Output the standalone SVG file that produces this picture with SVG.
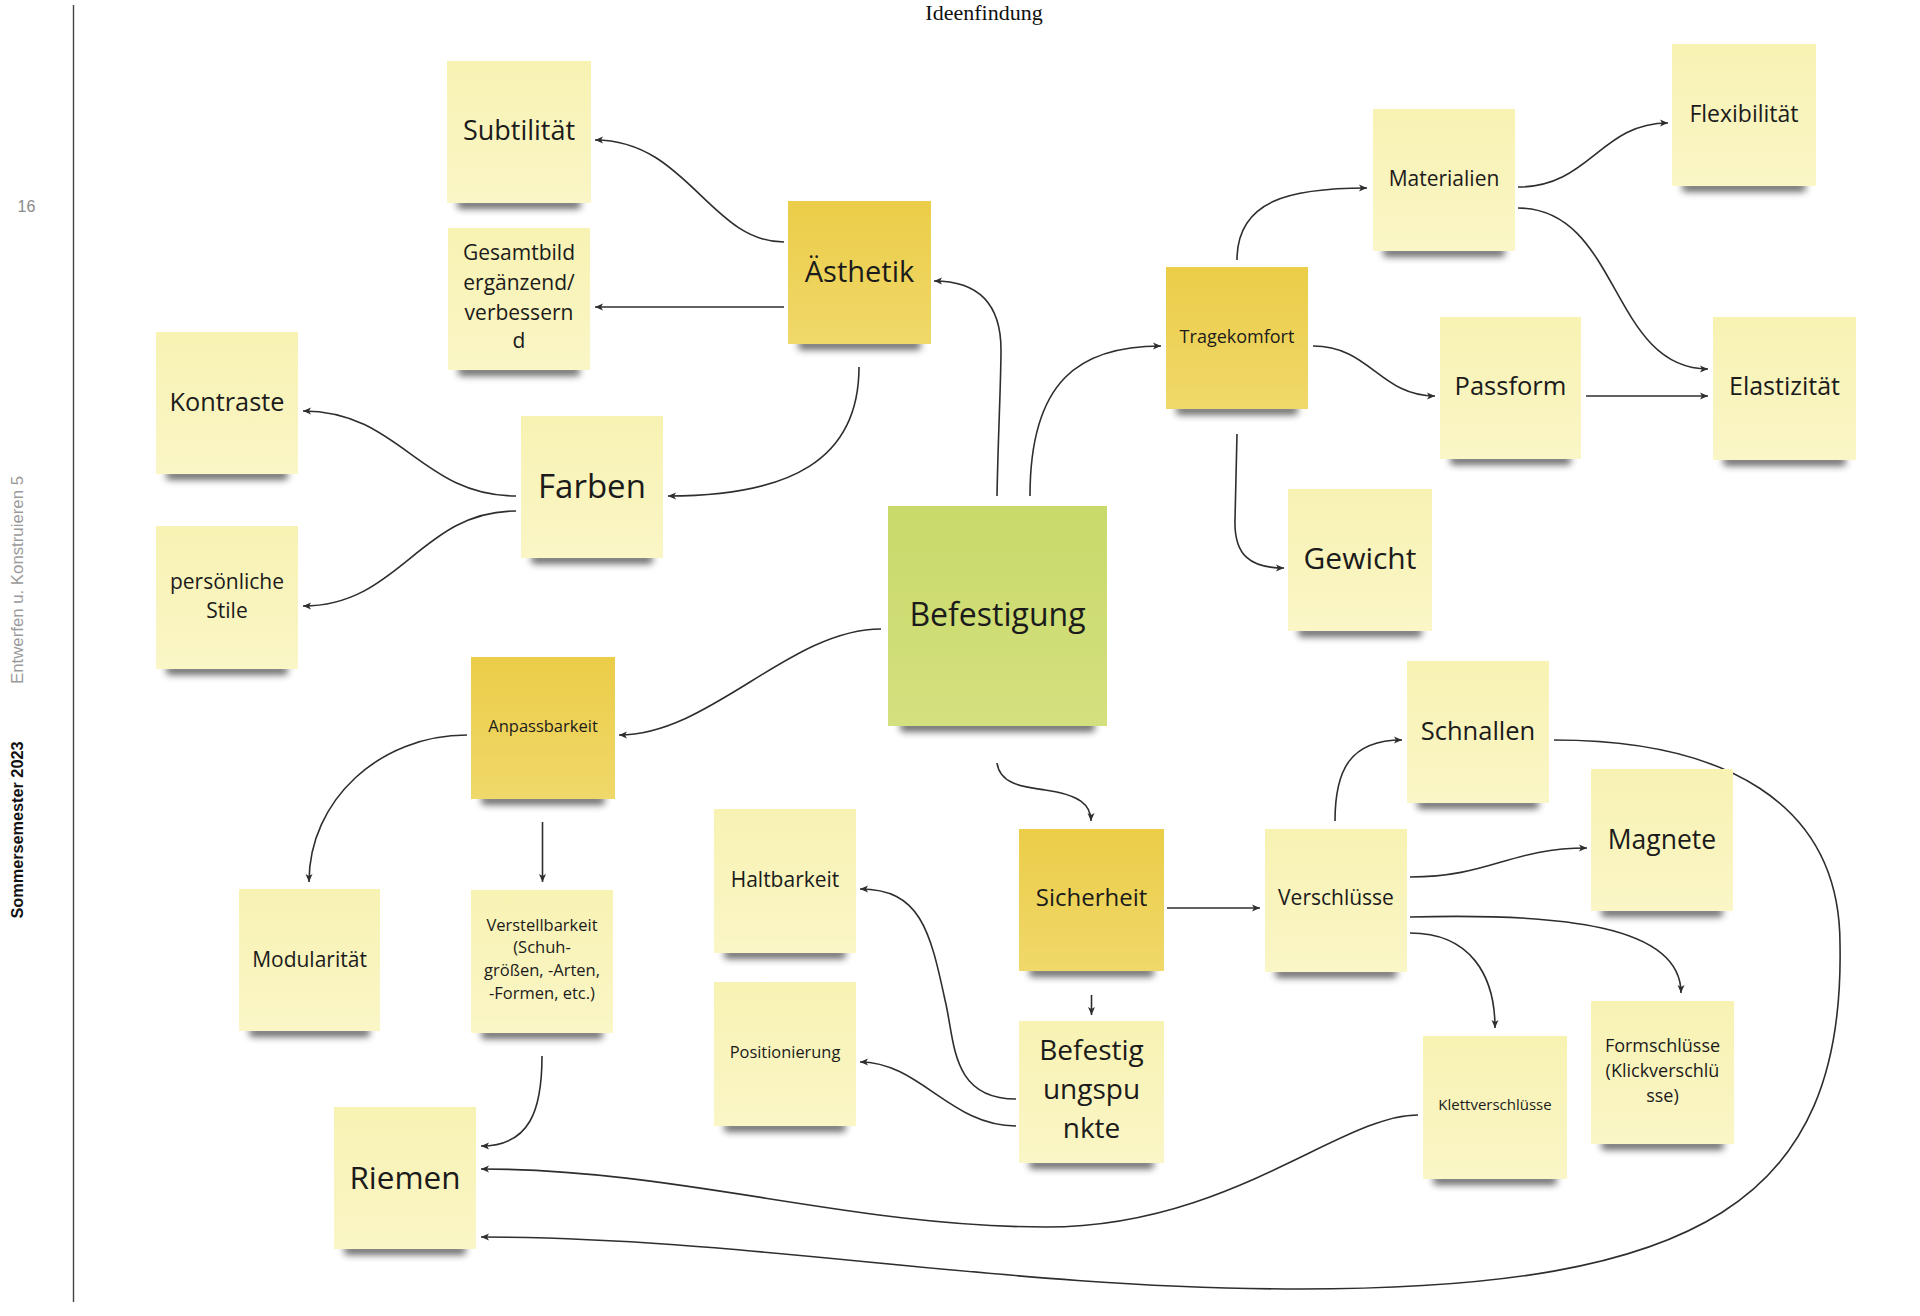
<svg xmlns="http://www.w3.org/2000/svg" width="1920" height="1316" viewBox="0 0 1920 1316">
<defs>
<linearGradient id="gLight" x1="0" y1="0" x2="0" y2="1">
<stop offset="0" stop-color="#F8F2B3"/><stop offset="1" stop-color="#FAF6C6"/>
</linearGradient>
<linearGradient id="gDark" x1="0" y1="0" x2="0" y2="1">
<stop offset="0" stop-color="#EBCD48"/><stop offset="1" stop-color="#F0D86A"/>
</linearGradient>
<linearGradient id="gGreen" x1="0" y1="0" x2="0" y2="1">
<stop offset="0" stop-color="#C9D96A"/><stop offset="1" stop-color="#D4E07E"/>
</linearGradient>
<filter id="blur" x="-20%" y="-100%" width="140%" height="300%">
<feGaussianBlur stdDeviation="3.6"/>
</filter>
<marker id="arr" markerUnits="userSpaceOnUse" markerWidth="9" markerHeight="8" refX="8" refY="4" orient="auto">
<path d="M0,0.5 L8,4 L0,7.5 L2,4 Z" fill="#2e2e2e"/>
</marker>
<style>
.sh{fill:#333;opacity:.7;filter:url(#blur)}
.light{fill:url(#gLight)}
.dark{fill:url(#gDark)}
.green{fill:url(#gGreen)}
.t{font-family:"Open Sans","Noto Sans",sans-serif;fill:#1b1b1b;text-anchor:middle}
.c path{fill:none;stroke:#2e2e2e;stroke-width:1.6;marker-end:url(#arr)}
.page{font-family:"Liberation Sans",Arial,sans-serif}
</style>
</defs>
<rect width="1920" height="1316" fill="#ffffff"/>

<g id="page">
<line x1="73.5" y1="5" x2="73.5" y2="1302" stroke="#444" stroke-width="1.4"/>
<text x="984" y="20" font-family="Liberation Serif,serif" font-size="22" fill="#111" text-anchor="middle">Ideenfindung</text>
<text class="page" x="26.5" y="212" font-size="16" fill="#8a8a8a" text-anchor="middle">16</text>
<text class="page" transform="translate(23,580) rotate(-90)" font-size="16.5" fill="#9a9a9a" text-anchor="middle" textLength="208" lengthAdjust="spacingAndGlyphs">Entwerfen u. Konstruieren 5</text>
<text class="page" transform="translate(23,830) rotate(-90)" font-size="16" font-weight="bold" fill="#111" text-anchor="middle" textLength="177" lengthAdjust="spacingAndGlyphs">Sommersemester 2023</text>
</g>

<g id="connectors" class="c">
<path d="M784,242 C710,242 687,140 595,140"/>
<path d="M784,307 L595,307" stroke-width="2.2"/>
<path d="M859,367 C859,460 790,496 668,496"/>
<path d="M516,496 C420,496 400,411 303,411"/>
<path d="M516,511 C420,511 400,606 303,606"/>
<path d="M997,496 C998,440 1001,380 1001,350 C1001,300 975,281 934,281"/>
<path d="M1030,496 C1030,380 1080,346 1161,346"/>
<path d="M1237,260 C1237,200 1290,188 1367,188"/>
<path d="M1313,346 C1370,346 1380,396 1435,396"/>
<path d="M1237,434 L1235,520 C1234,555 1250,568 1284,568"/>
<path d="M1518,187 C1590,187 1600,123 1668,123"/>
<path d="M1518,208 C1620,208 1610,369 1708,369"/>
<path d="M1586,396 L1708,396" stroke-width="2"/>
<path d="M881,629 C790,629 710,735 619,735"/>
<path d="M467,735 C380,735 309,800 309,882"/>
<path d="M542.5,822 L542.5,882"/>
<path d="M542,1056 C542,1110 530,1146 481,1146"/>
<path d="M997,763 C1000,785 1025,787 1045,790 C1080,795 1091,805 1091,821"/>
<path d="M1167,908 L1260,908"/>
<path d="M1091.5,995 L1091.5,1015"/>
<path d="M1016,1099 C950,1099 955,1040 945,1000 C930,930 920,889 860,889"/>
<path d="M1016,1126 C950,1126 920,1062 860,1062"/>
<path d="M1335,821 C1335,770 1350,740 1402,740"/>
<path d="M1410,877 C1490,877 1510,848 1587,848"/>
<path d="M1410,917 C1560,913 1681,925 1681,993"/>
<path d="M1410,933 C1470,933 1495,975 1495,1028"/>
<path d="M1554,740 C1720,740 1840,800 1840,944 C1845,1200 1700,1289 1300,1289 C1000,1289 750,1237 481,1237"/>
<path d="M1418,1115 C1340,1115 1230,1227 1046,1227 C850,1227 680,1169 481,1169"/>
</g>

<g id="n-subtilitaet"><rect class="sh" x="457" y="199" width="124" height="10" rx="4"/><rect class="light" x="447" y="61" width="144" height="142"/><text class="t" x="519" y="140" font-size="27">Subtilität</text></g>
<g id="n-gesamtbild"><rect class="sh" x="458" y="366" width="122" height="10" rx="4"/><rect class="light" x="448" y="228" width="142" height="142"/><text class="t" font-size="21"><tspan x="519" y="260">Gesamtbild</tspan><tspan x="519" y="290">ergänzend/</tspan><tspan x="519" y="319.5">verbessern</tspan><tspan x="519" y="348">d</tspan></text></g>
<g id="n-aesthetik"><rect class="sh" x="798" y="340" width="123" height="10" rx="4"/><rect class="dark" x="788" y="201" width="143" height="143"/><text class="t" x="859.5" y="282" font-size="29">Ästhetik</text></g>
<g id="n-kontraste"><rect class="sh" x="166" y="470" width="122" height="10" rx="4"/><rect class="light" x="156" y="332" width="142" height="142"/><text class="t" x="227" y="411" font-size="25.3">Kontraste</text></g>
<g id="n-stile"><rect class="sh" x="166" y="665" width="122" height="10" rx="4"/><rect class="light" x="156" y="526" width="142" height="143"/><text class="t" font-size="21"><tspan x="227" y="589">persönliche</tspan><tspan x="227" y="617.5">Stile</tspan></text></g>
<g id="n-farben"><rect class="sh" x="531" y="554" width="122" height="10" rx="4"/><rect class="light" x="521" y="416" width="142" height="142"/><text class="t" x="592" y="498" font-size="33">Farben</text></g>
<g id="n-befestigung"><rect class="sh" x="900" y="721" width="195" height="11" rx="4"/><rect class="green" x="888" y="506" width="219" height="220"/><text class="t" x="997.5" y="626" font-size="32">Befestigung</text></g>
<g id="n-tragekomfort"><rect class="sh" x="1176" y="405" width="122" height="10" rx="4"/><rect class="dark" x="1166" y="267" width="142" height="142"/><text class="t" x="1237" y="342.5" font-size="18">Tragekomfort</text></g>
<g id="n-materialien"><rect class="sh" x="1383" y="247" width="122" height="10" rx="4"/><rect class="light" x="1373" y="109" width="142" height="142"/><text class="t" x="1444" y="186" font-size="21">Materialien</text></g>
<g id="n-flexibilitaet"><rect class="sh" x="1682" y="182" width="124" height="10" rx="4"/><rect class="light" x="1672" y="44" width="144" height="142"/><text class="t" x="1744" y="122" font-size="23">Flexibilität</text></g>
<g id="n-passform"><rect class="sh" x="1450" y="455" width="121" height="10" rx="4"/><rect class="light" x="1440" y="317" width="141" height="142"/><text class="t" x="1510.5" y="395" font-size="25.5">Passform</text></g>
<g id="n-elastizitaet"><rect class="sh" x="1723" y="456" width="123" height="10" rx="4"/><rect class="light" x="1713" y="317" width="143" height="143"/><text class="t" x="1784.5" y="395" font-size="25">Elastizität</text></g>
<g id="n-gewicht"><rect class="sh" x="1298" y="627" width="124" height="10" rx="4"/><rect class="light" x="1288" y="489" width="144" height="142"/><text class="t" x="1360" y="568.5" font-size="30">Gewicht</text></g>
<g id="n-anpassbarkeit"><rect class="sh" x="481" y="795" width="124" height="10" rx="4"/><rect class="dark" x="471" y="657" width="144" height="142"/><text class="t" x="543" y="731.5" font-size="16.5">Anpassbarkeit</text></g>
<g id="n-modularitaet"><rect class="sh" x="249" y="1027" width="121" height="10" rx="4"/><rect class="light" x="239" y="889" width="141" height="142"/><text class="t" x="309.5" y="966.5" font-size="21">Modularität</text></g>
<g id="n-verstellbarkeit"><rect class="sh" x="481" y="1029" width="122" height="10" rx="4"/><rect class="light" x="471" y="890" width="142" height="143"/><text class="t" font-size="16.5"><tspan x="542" y="930.5">Verstellbarkeit</tspan><tspan x="542" y="953">(Schuh-</tspan><tspan x="542" y="976">größen, -Arten,</tspan><tspan x="542" y="998.5">-Formen, etc.)</tspan></text></g>
<g id="n-riemen"><rect class="sh" x="344" y="1245" width="122" height="10" rx="4"/><rect class="light" x="334" y="1107" width="142" height="142"/><text class="t" x="405" y="1188.5" font-size="31.5">Riemen</text></g>
<g id="n-haltbarkeit"><rect class="sh" x="724" y="949" width="122" height="10" rx="4"/><rect class="light" x="714" y="809" width="142" height="144"/><text class="t" x="785" y="886.5" font-size="21">Haltbarkeit</text></g>
<g id="n-positionierung"><rect class="sh" x="724" y="1122" width="122" height="10" rx="4"/><rect class="light" x="714" y="982" width="142" height="144"/><text class="t" x="785" y="1057.5" font-size="16.4">Positionierung</text></g>
<g id="n-sicherheit"><rect class="sh" x="1029" y="967" width="125" height="10" rx="4"/><rect class="dark" x="1019" y="829" width="145" height="142"/><text class="t" x="1091.5" y="906" font-size="24">Sicherheit</text></g>
<g id="n-befestigungspunkte"><rect class="sh" x="1029" y="1159" width="125" height="10" rx="4"/><rect class="light" x="1019" y="1021" width="145" height="142"/><text class="t" font-size="28"><tspan x="1091.5" y="1060">Befestig</tspan><tspan x="1091.5" y="1099">ungspu</tspan><tspan x="1091.5" y="1138">nkte</tspan></text></g>
<g id="n-verschluesse"><rect class="sh" x="1275" y="968" width="122" height="10" rx="4"/><rect class="light" x="1265" y="829" width="142" height="143"/><text class="t" x="1336" y="905" font-size="21">Verschlüsse</text></g>
<g id="n-schnallen"><rect class="sh" x="1417" y="799" width="122" height="10" rx="4"/><rect class="light" x="1407" y="661" width="142" height="142"/><text class="t" x="1478" y="739.5" font-size="25.5">Schnallen</text></g>
<g id="n-magnete"><rect class="sh" x="1601" y="907" width="122" height="10" rx="4"/><rect class="light" x="1591" y="769" width="142" height="142"/><text class="t" x="1662" y="848.5" font-size="26.5">Magnete</text></g>
<g id="n-klettverschluesse"><rect class="sh" x="1433" y="1175" width="124" height="10" rx="4"/><rect class="light" x="1423" y="1036" width="144" height="143"/><text class="t" x="1495" y="1110" font-size="15">Klettverschlüsse</text></g>
<g id="n-formschluesse"><rect class="sh" x="1601" y="1140" width="123" height="10" rx="4"/><rect class="light" x="1591" y="1001" width="143" height="143"/><text class="t" font-size="18"><tspan x="1662.5" y="1051.5">Formschlüsse</tspan><tspan x="1662.5" y="1077">(Klickverschlü</tspan><tspan x="1662.5" y="1101.5">sse)</tspan></text></g>
</svg>
